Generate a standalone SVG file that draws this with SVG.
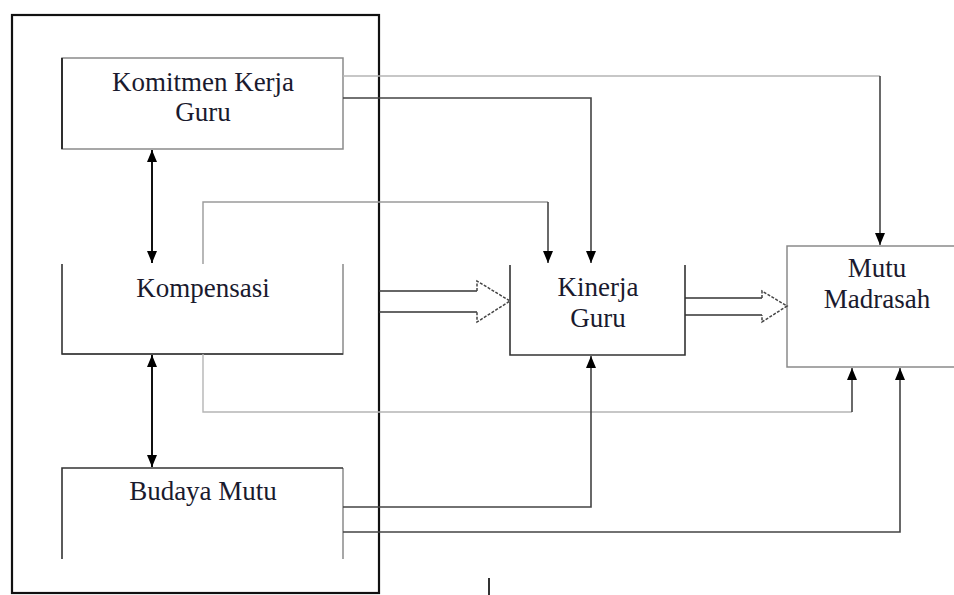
<svg xmlns="http://www.w3.org/2000/svg" width="954" height="595" viewBox="0 0 954 595">
  <defs>
    <style>
      text { font-family: "Liberation Serif", "Times New Roman", serif; font-size: 27px; fill: #1a1a2e; text-anchor: middle; }
      .frame { fill: none; stroke: #111; stroke-width: 2.2; }
      .box { fill: none; stroke: #8a8a8a; stroke-width: 1.5; }
      .boxd { fill: none; stroke: #333; stroke-width: 1.6; }
      .c-dark { fill: none; stroke: #444; stroke-width: 1.6; }
      .c-grey { fill: none; stroke: #9a9a9a; stroke-width: 1.4; }
      .c-light { fill: none; stroke: #b5b5b5; stroke-width: 1.4; }
      .c-black { fill: none; stroke: #111; stroke-width: 2; }
      .block { fill: none; stroke: #333; stroke-width: 1.7; }
      .head { fill: #fff; stroke: #444; stroke-width: 1.5; stroke-dasharray: 3 1.5; }
    </style>
    <marker id="ah" viewBox="0 0 12 10" markerWidth="12" markerHeight="10" refX="12" refY="5" orient="auto-start-reverse" markerUnits="userSpaceOnUse">
      <path d="M0,0 L12,5 L0,10 z" fill="#000"/>
    </marker>
  </defs>
  <rect width="954" height="595" fill="#fff"/>

  <g id="frame">
    <rect class="frame" x="12" y="15" width="367" height="578"/>
  </g>

  <g id="node-komitmen">
    <rect class="box" x="62" y="58" width="281" height="91"/>
    <line x1="62" y1="58" x2="62" y2="149" stroke="#222" stroke-width="1.8"/>
    <text x="203" y="91">Komitmen Kerja</text>
    <text x="203" y="121">Guru</text>
  </g>

  <g id="node-kompensasi">
    <path class="box" d="M343,264 V354 H62"/>
    <path class="boxd" d="M62,264 V354 H343"/>
    <text x="203" y="297">Kompensasi</text>
  </g>

  <g id="node-budaya">
    <path class="box" d="M343,468 V559"/>
    <path class="boxd" d="M62,559 V468 H343"/>
    <text x="203" y="500">Budaya Mutu</text>
  </g>

  <g id="node-kinerja">
    <path class="boxd" d="M510,265 V355 H685 V265"/>
    <text x="598" y="296">Kinerja</text>
    <text x="598" y="327">Guru</text>
  </g>

  <g id="node-mutu">
    <path class="box" d="M954,246 H787 V367 H954"/>
    <text x="877" y="277">Mutu</text>
    <text x="877" y="308">Madrasah</text>
  </g>

  <g id="connectors">
    <!-- Komitmen <-> Kompensasi -->
    <line class="c-black" x1="152" y1="150" x2="152" y2="263" marker-start="url(#ah)" marker-end="url(#ah)"/>
    <!-- Kompensasi <-> Budaya -->
    <line class="c-black" x1="152" y1="355" x2="152" y2="467" marker-start="url(#ah)" marker-end="url(#ah)"/>

    <!-- Komitmen -> Mutu -->
    <path class="c-light" d="M343,76 H880"/>
    <path class="c-dark" d="M880,76 V245" marker-end="url(#ah)"/>
    <!-- Komitmen -> Kinerja -->
    <path class="c-dark" d="M343,98 H591 V263" marker-end="url(#ah)"/>

    <!-- Kompensasi -> Kinerja -->
    <path class="c-grey" d="M203,264 V202 H548"/>
    <path class="c-dark" d="M548,202 V263" marker-end="url(#ah)"/>
    <!-- Kompensasi -> Mutu -->
    <path class="c-light" d="M203,354 V412 H852"/>
    <path class="c-dark" d="M852,412 V368" marker-end="url(#ah)"/>

    <!-- Budaya -> Kinerja -->
    <path class="c-dark" d="M343,507 H591 V356" marker-end="url(#ah)"/>
    <!-- Budaya -> Mutu -->
    <path class="c-dark" d="M343,532 H900 V368" marker-end="url(#ah)"/>

    <!-- block arrow frame -> Kinerja -->
    <line class="block" x1="379" y1="291" x2="477" y2="291"/>
    <line class="block" x1="379" y1="312" x2="477" y2="312"/>
    <path class="head" d="M477,291 V281 L510,301 L477,322 V312"/>
    <!-- block arrow Kinerja -> Mutu -->
    <line class="block" x1="685" y1="298" x2="762" y2="298"/>
    <line class="block" x1="685" y1="315" x2="762" y2="315"/>
    <path class="head" d="M762,298 V291 L787,306 L762,322 V315"/>

    <!-- small mark -->
    <line x1="489" y1="578" x2="489" y2="595" stroke="#333" stroke-width="2"/>
  </g>
</svg>
